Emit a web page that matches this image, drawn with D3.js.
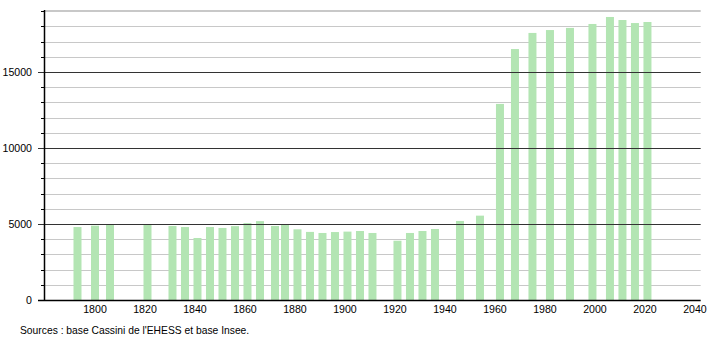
<!DOCTYPE html>
<html>
<head>
<meta charset="utf-8">
<script src="https://cdn.jsdelivr.net/npm/d3@7"></script>
<style>
body { margin: 0; background: #fff; }
text { font-family: "Liberation Sans", Arial, sans-serif; }
</style>
</head>
<body>
<div id="chart"></div>
<script>
// census years and population
var years = [1793, 1800, 1806, 1821, 1831, 1836, 1841, 1846, 1851, 1856, 1861, 1866,
    1872, 1876, 1881, 1886, 1891, 1896, 1901, 1906, 1911, 1921, 1926, 1931, 1936,
    1946, 1954, 1962, 1968, 1975, 1982, 1990, 1999, 2006, 2011, 2016, 2021];
var population = [4800, 4890, 5000, 5000, 4870, 4800, 4080, 4800, 4740, 4860, 5060, 5190,
    4870, 4980, 4650, 4480, 4410, 4470, 4500, 4540, 4410, 3900, 4410, 4540, 4670,
    5200, 5550, 12900, 16510, 17570, 17760, 17900, 18160, 18620, 18420, 18220, 18290];
var xTicks = [1800, 1820, 1840, 1860, 1880, 1900, 1920, 1940, 1960, 1980, 2000, 2020, 2040];
var yMajor = [0, 5000, 10000, 15000];
var yMinor = d3.range(1000, 20000, 1000).filter(v => v % 5000 !== 0);
var source = "Sources : base Cassini de l'EHESS et base Insee.";

var W = 710, H = 340;
var svg = d3.select("#chart").append("svg")
    .attr("width", W)
    .attr("height", H);

var x = d3.scaleLinear().domain([1779.6, 2042.3]).range([44, 700.7]);
var y = d3.scaleLinear().domain([0, 19000]).range([300, 11.2]);

// minor gridlines
svg.append("g").selectAll("line")
    .data(yMinor)
    .enter().append("line")
    .attr("x1", 44).attr("x2", 700.7)
    .attr("y1", d => Math.round(y(d)) + 0.5).attr("y2", d => Math.round(y(d)) + 0.5)
    .attr("stroke", "#c8c8c8").attr("stroke-width", 1);

// top line
svg.append("line")
    .attr("x1", 44).attr("x2", 700.7)
    .attr("y1", 10.5).attr("y2", 10.5)
    .attr("stroke", "#c8c8c8");

// bars
svg.append("g").selectAll("rect")
    .data(years)
    .enter().append("rect")
    .attr("x", (d) => x(d) - 4)
    .attr("width", 8)
    .attr("y", (d, i) => y(population[i]))
    .attr("height", (d, i) => y(0) - y(population[i]))
    .attr("fill", "#b3e5b3");

// major gridlines drawn over bars
svg.append("g").selectAll("line")
    .data(yMajor.filter(v => v > 0))
    .enter().append("line")
    .attr("x1", 38).attr("x2", 700.7)
    .attr("y1", d => Math.round(y(d)) + 0.5).attr("y2", d => Math.round(y(d)) + 0.5)
    .attr("stroke", "#333").attr("stroke-width", 1);

// minor ticks on axis
svg.append("g").selectAll("line")
    .data(yMinor)
    .enter().append("line")
    .attr("x1", 41).attr("x2", 44)
    .attr("y1", d => Math.round(y(d)) + 0.5).attr("y2", d => Math.round(y(d)) + 0.5)
    .attr("stroke", "#000");

// y axis line
svg.append("line")
    .attr("x1", 44.5).attr("x2", 44.5)
    .attr("y1", 10).attr("y2", 300.5)
    .attr("stroke", "#000").attr("stroke-width", 1.5);

// x axis line
svg.append("line")
    .attr("x1", 38).attr("x2", 700.7)
    .attr("y1", 300.5).attr("y2", 300.5)
    .attr("stroke", "#000").attr("stroke-width", 1.5);

// y labels
svg.append("g").selectAll("text")
    .data(yMajor)
    .enter().append("text")
    .attr("x", 32)
    .attr("y", d => y(d) + 4)
    .attr("text-anchor", "end")
    .style("font-size", "10.6px")
    .attr("fill", "#000")
    .text(d => d);

// x labels
svg.append("g").selectAll("text")
    .data(xTicks)
    .enter().append("text")
    .attr("x", d => x(d))
    .attr("y", 313)
    .attr("text-anchor", "middle")
    .style("font-size", "10.6px")
    .attr("fill", "#000")
    .text(d => d);

svg.append("text")
    .attr("x", 20)
    .attr("y", 334)
    .style("font-size", "10.3px")
    .attr("fill", "#000")
    .text(source);
</script>
</body>
</html>
